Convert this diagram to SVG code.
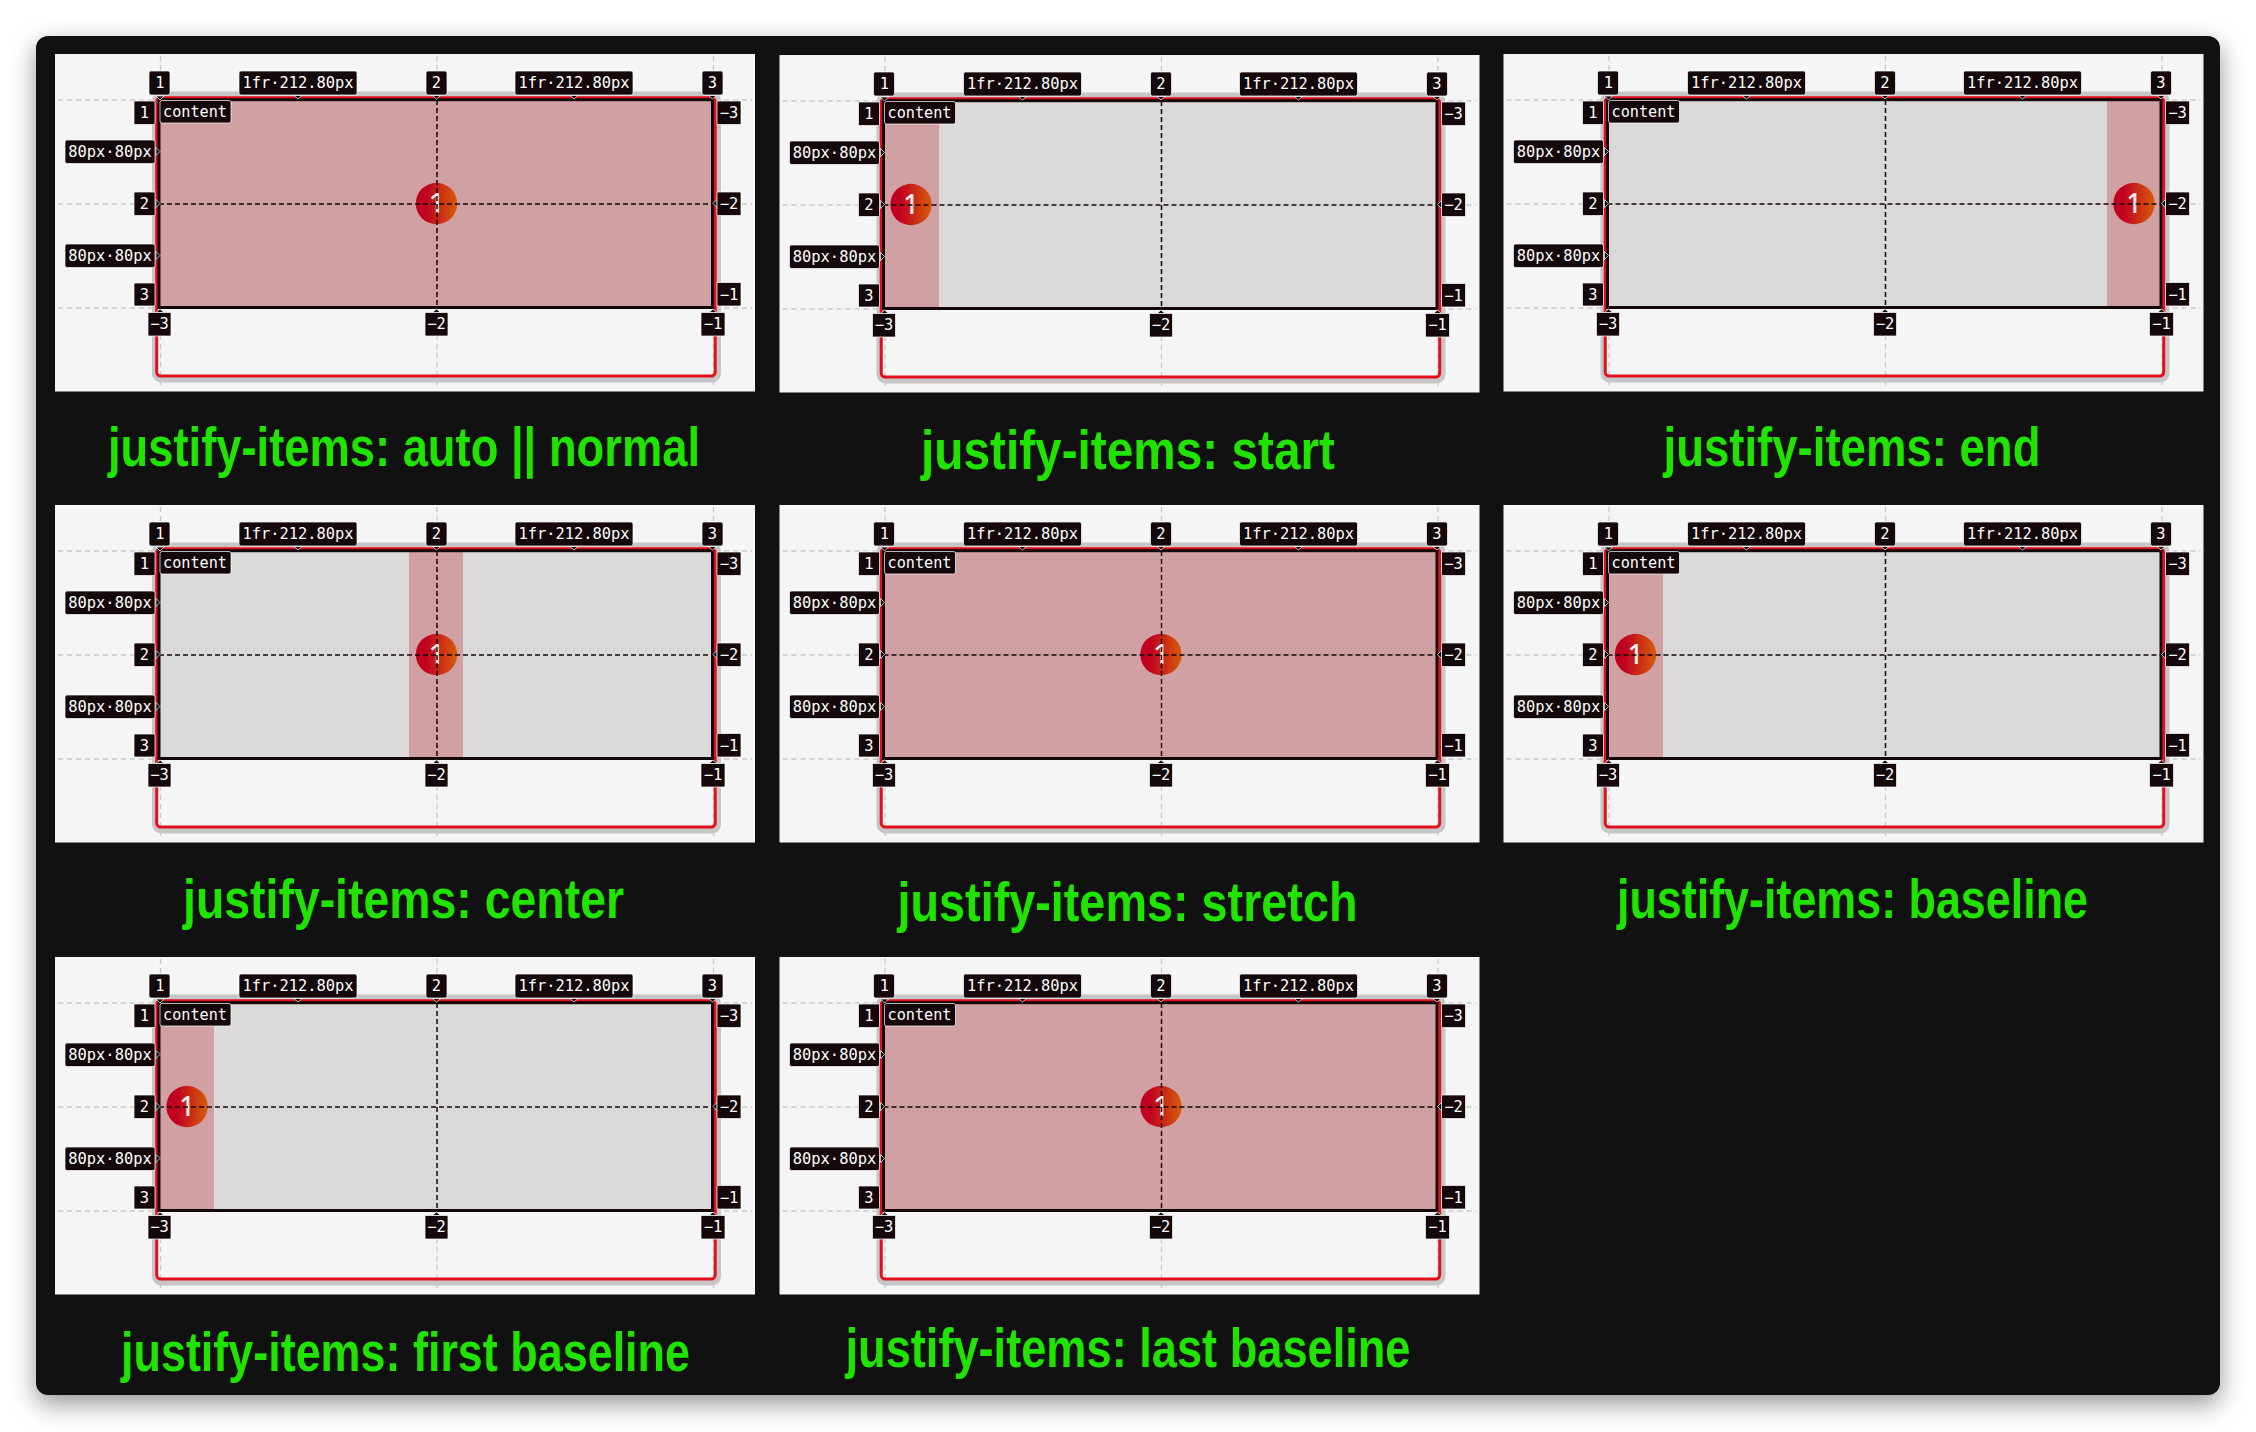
<svg xmlns="http://www.w3.org/2000/svg" xmlns:xlink="http://www.w3.org/1999/xlink" width="2256" height="1432" viewBox="0 0 2256 1432">
<defs>
<style>
.guide{fill:none;stroke:#c9c9c9;stroke-width:1.3;stroke-dasharray:5 4}
.grid{fill:none;stroke:#14080a;stroke-width:1.5;stroke-dasharray:5 3}
.pill{fill:#14080a;stroke:#fff;stroke-width:.7}
.l{font-family:"DejaVu Sans Mono",monospace;font-size:15.4px;fill:#fff;text-anchor:middle}
.c{text-anchor:start;font-size:15.2px}
.n{font-family:"Noto Sans",sans-serif;font-size:27px;font-weight:500;fill:#fbeeee;text-anchor:middle}
.t{font-family:"Liberation Sans",Arial,sans-serif;font-weight:700;font-size:56px;fill:#20e400}
.g{fill:#dbdad8}.p{fill:#d0a0a3}
</style>
<linearGradient id="ball"><stop offset="0.22" stop-color="#c00020"/><stop offset="1" stop-color="#d65c0a"/></linearGradient>
<filter id="sh" x="-5%" y="-8%" width="110%" height="116%" color-interpolation-filters="sRGB"><feGaussianBlur stdDeviation="13"/></filter>
<g id="back">
<rect x="55" y="54" width="700" height="337.500" fill="#f5f5f5"/>
<path class="guide" d="M58 100H752M58 204H752M58 308H752M160.500 56V388M437 56V388M713.500 56V388"/>
<rect x="155" y="94.500" width="563" height="285" rx="6" fill="none" stroke="#c6c6c6" stroke-width="6"/>
<rect x="156.700" y="97.700" width="558.500" height="278.300" rx="4" fill="none" stroke="#e2101c" stroke-width="3"/>
</g>
<g id="front">
<rect x="159" y="99.700" width="553.500" height="207.800" fill="none" stroke="#14080a" stroke-width="3"/>
<path class="grid" d="M159 204H712.500M437 100V307"/>
</g>
<g id="pills">
<path class="pill" d="M156 147.500l4 4-4 4zM156 199.500l4 4-4 4zM156 251.500l4 4-4 4zM717 199.500l-4 4 4 4zM156 96l4 4 4-4zM294 95.500l4 3.500 4-3.500zM432.500 95.500l4 3.500 4-3.500zM570 95.500l4 3.500 4-3.500zM708.500 95.500l4 3.500 4-3.500zM156 312.500l4-3.500 4 3.500zM432.500 312.500l4-3.500 4 3.500zM709 312.500l4-3.500 4 3.500z"/>
<rect class="pill" x="149" y="71" width="21" height="24" rx="2"/>
<rect class="pill" x="239" y="71" width="118" height="24" rx="2"/>
<rect class="pill" x="426" y="71" width="21" height="24" rx="2"/>
<rect class="pill" x="515" y="71" width="118" height="24" rx="2"/>
<rect class="pill" x="702" y="71" width="21" height="24" rx="2"/>
<rect class="pill" x="134" y="101" width="21" height="23.500" rx="1"/>
<rect class="pill" x="65" y="140" width="90" height="23.500" rx="2"/>
<rect class="pill" x="134" y="192" width="21" height="23.500" rx="1"/>
<rect class="pill" x="65" y="244" width="90" height="23.500" rx="2"/>
<rect class="pill" x="134" y="283" width="21" height="23" rx="1"/>
<rect class="pill" x="160" y="100.500" width="71" height="22.500" rx="2"/>
<rect class="pill" x="717" y="101" width="24" height="23.500" rx="1"/>
<rect class="pill" x="717" y="192" width="24" height="23.500" rx="1"/>
<rect class="pill" x="717" y="282.500" width="24" height="23.500" rx="1"/>
<rect class="pill" x="148" y="312.500" width="23" height="23.500" rx="1"/>
<rect class="pill" x="425" y="312.500" width="23" height="23.500" rx="1"/>
<rect class="pill" x="701" y="312.500" width="24" height="23.500" rx="1"/>
</g>
</defs>
<rect width="2256" height="1432" fill="#fff"/>
<rect id="frame-shadow" x="36" y="45" width="2184" height="1359" rx="12" fill="#000" fill-opacity="0.42" filter="url(#sh)"/>
<rect id="frame" x="36" y="36" width="2184" height="1359" rx="12" fill="#111111"/>

<g id="panel-normal">
<use href="#back"/>
<rect class="p" x="159" y="99.700" width="553.500" height="207.800"/>
<circle cx="436.500" cy="203.500" r="20.700" fill="url(#ball)"/><text class="n" x="436.500" y="213">1</text>
<use href="#front"/><use href="#pills"/>
<text class="l" x="160" y="88">1</text><text class="l" x="298" y="88">1fr·212.80px</text><text class="l" x="436.500" y="88">2</text><text class="l" x="574" y="88">1fr·212.80px</text><text class="l" x="712.500" y="88">3</text>
<text class="l" x="144.500" y="118">1</text><text class="l" x="110" y="157">80px·80px</text><text class="l" x="144.500" y="209">2</text><text class="l" x="110" y="261">80px·80px</text><text class="l" x="144.500" y="300">3</text>
<text class="l c" x="163" y="117">content</text>
<text class="l" x="729" y="118">−3</text><text class="l" x="729" y="209">−2</text><text class="l" x="729" y="300">−1</text>
<text class="l" x="159.500" y="329">−3</text><text class="l" x="436.500" y="329">−2</text><text class="l" x="713" y="329">−1</text>
<text class="t" x="108" y="466" textLength="592" lengthAdjust="spacingAndGlyphs">justify-items: auto || normal</text>
</g>

<g id="panel-start" transform="translate(724.500,1)">
<use href="#back"/>
<rect class="g" x="159" y="99.700" width="553.500" height="207.800"/>
<rect class="p" x="159" y="99.700" width="55.500" height="207.800"/>
<circle cx="186.500" cy="203.500" r="20.700" fill="url(#ball)"/><text class="n" x="186.500" y="213">1</text>
<use href="#front"/><use href="#pills"/>
<text class="l" x="160" y="88">1</text><text class="l" x="298" y="88">1fr·212.80px</text><text class="l" x="436.500" y="88">2</text><text class="l" x="574" y="88">1fr·212.80px</text><text class="l" x="712.500" y="88">3</text>
<text class="l" x="144.500" y="118">1</text><text class="l" x="110" y="157">80px·80px</text><text class="l" x="144.500" y="209">2</text><text class="l" x="110" y="261">80px·80px</text><text class="l" x="144.500" y="300">3</text>
<text class="l c" x="163" y="117">content</text>
<text class="l" x="729" y="118">−3</text><text class="l" x="729" y="209">−2</text><text class="l" x="729" y="300">−1</text>
<text class="l" x="159.500" y="329">−3</text><text class="l" x="436.500" y="329">−2</text><text class="l" x="713" y="329">−1</text>
<text class="t" x="196.500" y="468" textLength="414" lengthAdjust="spacingAndGlyphs">justify-items: start</text>
</g>

<g id="panel-end" transform="translate(1448.500,0)">
<use href="#back"/>
<rect class="g" x="159" y="99.700" width="553.500" height="207.800"/>
<rect class="p" x="658.500" y="99.700" width="54" height="207.800"/>
<circle cx="685.500" cy="203.500" r="20.700" fill="url(#ball)"/><text class="n" x="685.500" y="213">1</text>
<use href="#front"/><use href="#pills"/>
<text class="l" x="160" y="88">1</text><text class="l" x="298" y="88">1fr·212.80px</text><text class="l" x="436.500" y="88">2</text><text class="l" x="574" y="88">1fr·212.80px</text><text class="l" x="712.500" y="88">3</text>
<text class="l" x="144.500" y="118">1</text><text class="l" x="110" y="157">80px·80px</text><text class="l" x="144.500" y="209">2</text><text class="l" x="110" y="261">80px·80px</text><text class="l" x="144.500" y="300">3</text>
<text class="l c" x="163" y="117">content</text>
<text class="l" x="729" y="118">−3</text><text class="l" x="729" y="209">−2</text><text class="l" x="729" y="300">−1</text>
<text class="l" x="159.500" y="329">−3</text><text class="l" x="436.500" y="329">−2</text><text class="l" x="713" y="329">−1</text>
<text class="t" x="215" y="466" textLength="377" lengthAdjust="spacingAndGlyphs">justify-items: end</text>
</g>

<g id="panel-center" transform="translate(0,451)">
<use href="#back"/>
<rect class="g" x="159" y="99.700" width="553.500" height="207.800"/>
<rect class="p" x="409" y="99.700" width="54" height="207.800"/>
<circle cx="436.500" cy="203.500" r="20.700" fill="url(#ball)"/><text class="n" x="436.500" y="213">1</text>
<use href="#front"/><use href="#pills"/>
<text class="l" x="160" y="88">1</text><text class="l" x="298" y="88">1fr·212.80px</text><text class="l" x="436.500" y="88">2</text><text class="l" x="574" y="88">1fr·212.80px</text><text class="l" x="712.500" y="88">3</text>
<text class="l" x="144.500" y="118">1</text><text class="l" x="110" y="157">80px·80px</text><text class="l" x="144.500" y="209">2</text><text class="l" x="110" y="261">80px·80px</text><text class="l" x="144.500" y="300">3</text>
<text class="l c" x="163" y="117">content</text>
<text class="l" x="729" y="118">−3</text><text class="l" x="729" y="209">−2</text><text class="l" x="729" y="300">−1</text>
<text class="l" x="159.500" y="329">−3</text><text class="l" x="436.500" y="329">−2</text><text class="l" x="713" y="329">−1</text>
<text class="t" x="183" y="467" textLength="441" lengthAdjust="spacingAndGlyphs">justify-items: center</text>
</g>

<g id="panel-stretch" transform="translate(724.500,451)">
<use href="#back"/>
<rect class="p" x="159" y="99.700" width="553.500" height="207.800"/>
<circle cx="436.500" cy="203.500" r="20.700" fill="url(#ball)"/><text class="n" x="436.500" y="213">1</text>
<use href="#front"/><use href="#pills"/>
<text class="l" x="160" y="88">1</text><text class="l" x="298" y="88">1fr·212.80px</text><text class="l" x="436.500" y="88">2</text><text class="l" x="574" y="88">1fr·212.80px</text><text class="l" x="712.500" y="88">3</text>
<text class="l" x="144.500" y="118">1</text><text class="l" x="110" y="157">80px·80px</text><text class="l" x="144.500" y="209">2</text><text class="l" x="110" y="261">80px·80px</text><text class="l" x="144.500" y="300">3</text>
<text class="l c" x="163" y="117">content</text>
<text class="l" x="729" y="118">−3</text><text class="l" x="729" y="209">−2</text><text class="l" x="729" y="300">−1</text>
<text class="l" x="159.500" y="329">−3</text><text class="l" x="436.500" y="329">−2</text><text class="l" x="713" y="329">−1</text>
<text class="t" x="173" y="470" textLength="460" lengthAdjust="spacingAndGlyphs">justify-items: stretch</text>
</g>

<g id="panel-baseline" transform="translate(1448.500,451)">
<use href="#back"/>
<rect class="g" x="159" y="99.700" width="553.500" height="207.800"/>
<rect class="p" x="159" y="99.700" width="55.500" height="207.800"/>
<circle cx="187" cy="203.500" r="20.700" fill="url(#ball)"/><text class="n" x="187" y="213">1</text>
<use href="#front"/><use href="#pills"/>
<text class="l" x="160" y="88">1</text><text class="l" x="298" y="88">1fr·212.80px</text><text class="l" x="436.500" y="88">2</text><text class="l" x="574" y="88">1fr·212.80px</text><text class="l" x="712.500" y="88">3</text>
<text class="l" x="144.500" y="118">1</text><text class="l" x="110" y="157">80px·80px</text><text class="l" x="144.500" y="209">2</text><text class="l" x="110" y="261">80px·80px</text><text class="l" x="144.500" y="300">3</text>
<text class="l c" x="163" y="117">content</text>
<text class="l" x="729" y="118">−3</text><text class="l" x="729" y="209">−2</text><text class="l" x="729" y="300">−1</text>
<text class="l" x="159.500" y="329">−3</text><text class="l" x="436.500" y="329">−2</text><text class="l" x="713" y="329">−1</text>
<text class="t" x="168.500" y="467" textLength="471" lengthAdjust="spacingAndGlyphs">justify-items: baseline</text>
</g>

<g id="panel-first-baseline" transform="translate(0,903)">
<use href="#back"/>
<rect class="g" x="159" y="99.700" width="553.500" height="207.800"/>
<rect class="p" x="159" y="99.700" width="55" height="207.800"/>
<circle cx="187" cy="203.500" r="20.700" fill="url(#ball)"/><text class="n" x="187" y="213">1</text>
<use href="#front"/><use href="#pills"/>
<text class="l" x="160" y="88">1</text><text class="l" x="298" y="88">1fr·212.80px</text><text class="l" x="436.500" y="88">2</text><text class="l" x="574" y="88">1fr·212.80px</text><text class="l" x="712.500" y="88">3</text>
<text class="l" x="144.500" y="118">1</text><text class="l" x="110" y="157">80px·80px</text><text class="l" x="144.500" y="209">2</text><text class="l" x="110" y="261">80px·80px</text><text class="l" x="144.500" y="300">3</text>
<text class="l c" x="163" y="117">content</text>
<text class="l" x="729" y="118">−3</text><text class="l" x="729" y="209">−2</text><text class="l" x="729" y="300">−1</text>
<text class="l" x="159.500" y="329">−3</text><text class="l" x="436.500" y="329">−2</text><text class="l" x="713" y="329">−1</text>
<text class="t" x="121" y="467.500" textLength="569" lengthAdjust="spacingAndGlyphs">justify-items: first baseline</text>
</g>

<g id="panel-last-baseline" transform="translate(724.500,903)">
<use href="#back"/>
<rect class="p" x="159" y="99.700" width="553.500" height="207.800"/>
<circle cx="436.500" cy="203.500" r="20.700" fill="url(#ball)"/><text class="n" x="436.500" y="213">1</text>
<use href="#front"/><use href="#pills"/>
<text class="l" x="160" y="88">1</text><text class="l" x="298" y="88">1fr·212.80px</text><text class="l" x="436.500" y="88">2</text><text class="l" x="574" y="88">1fr·212.80px</text><text class="l" x="712.500" y="88">3</text>
<text class="l" x="144.500" y="118">1</text><text class="l" x="110" y="157">80px·80px</text><text class="l" x="144.500" y="209">2</text><text class="l" x="110" y="261">80px·80px</text><text class="l" x="144.500" y="300">3</text>
<text class="l c" x="163" y="117">content</text>
<text class="l" x="729" y="118">−3</text><text class="l" x="729" y="209">−2</text><text class="l" x="729" y="300">−1</text>
<text class="l" x="159.500" y="329">−3</text><text class="l" x="436.500" y="329">−2</text><text class="l" x="713" y="329">−1</text>
<text class="t" x="121" y="463.500" textLength="565" lengthAdjust="spacingAndGlyphs">justify-items: last baseline</text>
</g>
</svg>
